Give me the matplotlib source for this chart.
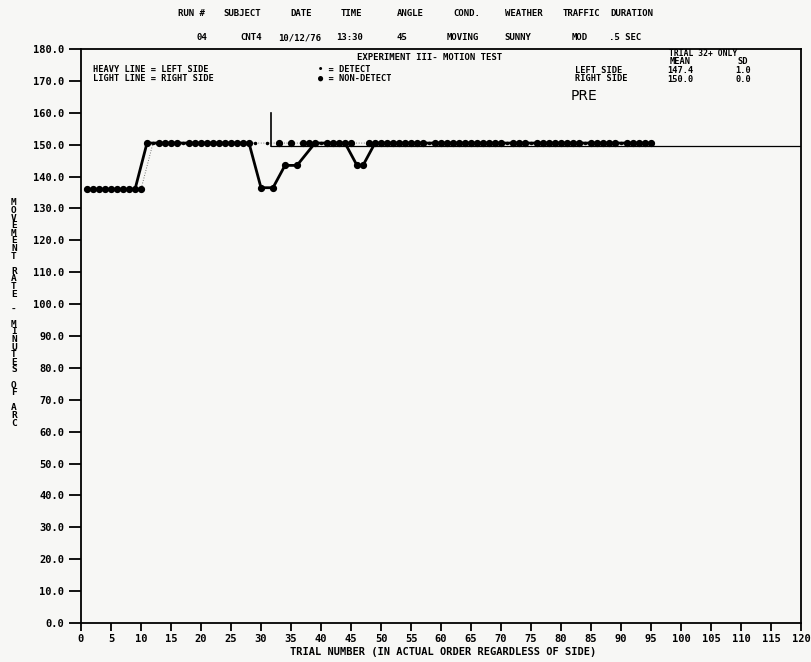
import matplotlib
matplotlib.use("Agg")
import matplotlib.pyplot as plt

# header table
header_cols = ["RUN #", "SUBJECT", "DATE", "TIME", "ANGLE", "COND.", "WEATHER", "TRAFFIC", "DURATION"]
header_vals = ["04", "CNT4", "10/12/76", "13:30", "45", "MOVING", "SUNNY", "MOD", ".5 SEC"]

# left side (heavy line)
left_trial = [1, 3, 4, 6, 7, 9,
              11, 13, 14, 15, 17, 18, 20, 22, 23, 25, 26, 28,
              30, 32, 34, 36,
              39, 41, 42, 44, 46, 47,
              49, 51, 52, 54, 56, 57, 59, 61, 62, 64, 66, 67, 69, 71, 72,
              74, 76, 77, 79, 81, 82, 84, 86, 87, 89, 91, 92, 94, 95]
left_val = [136, 136, 136, 136, 136, 136,
            150.5, 150.5, 150.5, 150.5, 150.5, 150.5, 150.5, 150.5, 150.5, 150.5, 150.5, 150.5,
            136.5, 136.5, 143.5, 143.5,
            150.5, 150.5, 150.5, 150.5, 143.5, 143.5,
            150.5, 150.5, 150.5, 150.5, 150.5, 150.5, 150.5, 150.5, 150.5, 150.5, 150.5, 150.5, 150.5, 150.5, 150.5,
            150.5, 150.5, 150.5, 150.5, 150.5, 150.5, 150.5, 150.5, 150.5, 150.5, 150.5, 150.5, 150.5, 150.5]
left_detect = [5, 17, 53, 60, 71, 84]

# right side (light line)
right_trial = [2, 5, 8, 10,
               12, 16, 19, 21, 24, 27, 29, 31, 33, 35, 37, 38, 40, 43, 45, 48,
               50, 53, 55, 58, 60, 63, 65, 68, 70, 73, 75, 78, 80, 83, 85, 88, 90, 93]
right_val = [136, 136, 136, 136,
             150.5, 150.5, 150.5, 150.5, 150.5, 150.5, 150.5, 150.5, 150.5, 150.5, 150.5, 150.5, 150.5, 150.5, 150.5, 150.5,
             150.5, 150.5, 150.5, 150.5, 150.5, 150.5, 150.5, 150.5, 150.5, 150.5, 150.5, 150.5, 150.5, 150.5, 150.5, 150.5, 150.5, 150.5]
right_detect = [12, 29, 31, 40, 58, 75, 90]

# trial 32+ reference
ref_x = [31.7, 120]
ref_y = 149.5
ref_top = 160

mono = "DejaVu Sans Mono"
W, H = 811, 662
fig = plt.figure(figsize=(W / 100, H / 100), dpi=100)
fig.patch.set_facecolor("#f7f7f5")


def ftext(x, y, s, **kw):
    kw.setdefault("family", mono)
    kw.setdefault("fontweight", "bold")
    kw.setdefault("fontsize", 6.5)
    kw.setdefault("ha", "center")
    kw.setdefault("va", "center")
    fig.text(x / W, 1 - y / H, s, **kw)


ax = fig.add_axes([81 / W, 1 - 623 / H, 720 / W, 574 / H])
ax.set_facecolor("#f7f7f5")

# right side light line
ax.plot(right_trial, right_val, color="0.45", lw=0.7, ls=":", zorder=2)
# left side heavy line
ax.plot(left_trial, left_val, color="black", lw=2.0, zorder=3)

for trials, vals, det in [(left_trial, left_val, left_detect), (right_trial, right_val, right_detect)]:
    nd_x = [t for t in trials if t not in det]
    nd_y = [v for t, v in zip(trials, vals) if t not in det]
    d_x = [t for t in trials if t in det]
    d_y = [v for t, v in zip(trials, vals) if t in det]
    ax.plot(nd_x, nd_y, "o", color="black", ms=4.2, zorder=4)
    ax.plot(d_x, d_y, ".", color="black", ms=3, zorder=4)

ax.plot(ref_x, [ref_y, ref_y], color="black", lw=0.9, zorder=2)
ax.plot([ref_x[0], ref_x[0]], [ref_y, ref_top], color="black", lw=1.2, zorder=2)

ax.set_xlim(0, 120)
ax.set_ylim(0, 180)
ax.set_xticks(range(0, 121, 5))
ax.set_yticks(range(0, 181, 10))
ax.set_yticklabels([f"{v}.0" for v in range(0, 181, 10)])
ax.tick_params(axis="y", length=9, width=1.3, pad=3, labelsize=7.5)
ax.tick_params(axis="x", length=6, width=1.3, pad=2, labelsize=7.5)
for lab in ax.get_xticklabels() + ax.get_yticklabels():
    lab.set_family(mono)
    lab.set_fontweight("bold")
for sp in ax.spines.values():
    sp.set_linewidth(1.3)

# header
col_x = [191, 242, 301, 351, 410, 467, 524, 581, 632]
val_x = [202, 251, 300, 350, 402, 463, 518, 580, 625]
for x, s in zip(col_x, header_cols):
    ftext(x, 13, s)
for x, s in zip(val_x, header_vals):
    ftext(x, 38, s)

# inside annotations
ftext(430, 57, "EXPERIMENT III- MOTION TEST")
ftext(93, 74, "HEAVY LINE = LEFT SIDE\nLIGHT LINE = RIGHT SIDE", ha="left", fontsize=6.2, linespacing=0.95)
ftext(318, 74, "\u2022 = DETECT\n\u25cf = NON-DETECT", ha="left", fontsize=6.2, linespacing=0.95)
ftext(703, 54, "TRIAL 32+ ONLY", fontsize=5.8)
ftext(575, 74.5, "LEFT SIDE\nRIGHT SIDE", ha="left", fontsize=6.2, linespacing=0.95)
ftext(680, 70.5, "MEAN\n147.4\n150.0", fontsize=6.2, linespacing=0.95)
ftext(743, 70.5, "SD\n1.0\n0.0", fontsize=6.2, linespacing=0.95)
ftext(584, 96, "PRE", family="DejaVu Sans", fontsize=10, fontweight="normal")

# axis labels
ftext(443, 652, "TRIAL NUMBER (IN ACTUAL ORDER REGARDLESS OF SIDE)", fontsize=7.5)
ylab = "MOVEMENT RATE - MINUTES OF ARC"
ftext(14, 313, "\n".join(ylab), fontsize=6.8, linespacing=0.8)

fig.savefig("out.png", dpi=100, facecolor=fig.get_facecolor())
